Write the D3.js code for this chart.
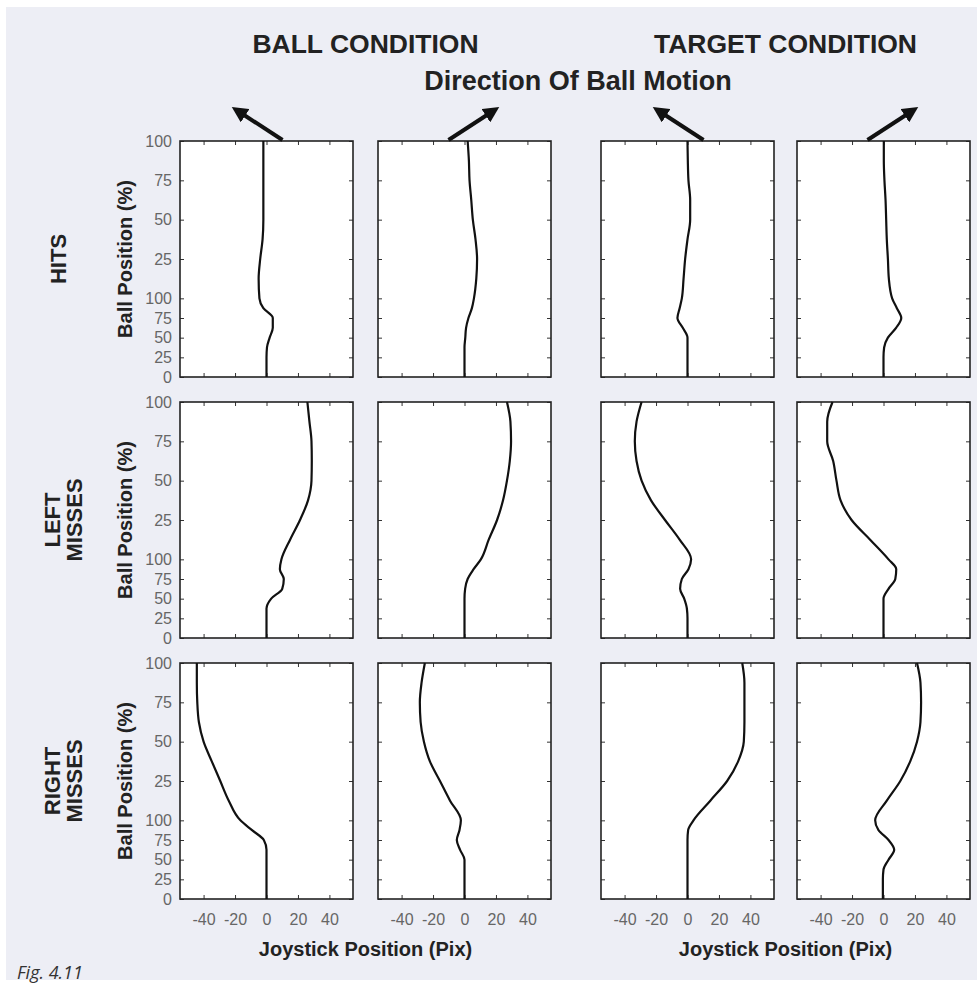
<!DOCTYPE html>
<html>
<head>
<meta charset="utf-8">
<script src="https://cdn.jsdelivr.net/npm/d3@7"></script>
<style>
  body { margin: 0; background: #fff; }
  svg { display: block; }
  .tick text { font-family: "Liberation Sans", Arial, sans-serif; font-size: 16px; fill: #666; }
  .tick line { stroke: #333; }
  .lbl { font-family: "Liberation Sans", Arial, sans-serif; font-weight: bold; fill: #222; }
</style>
</head>
<body>
<svg width="977" height="983"></svg>
<script>
// ball position samples: 0-100 = first part of the trial (lower axis), 100-200 = second part (upper axis)
var ballPos = [0, 12.5, 25, 37.5, 50, 62.5, 75, 87.5, 100, 112.5, 125, 137.5, 150, 162.5, 175, 187.5, 200];
var yTicks = [0, 25, 50, 75, 100, 125, 150, 175, 200];
var xTicks = [-40, -20, 0, 20, 40];

var rowNames = [["HITS"], ["LEFT", "MISSES"], ["RIGHT", "MISSES"]];
var condNames = ["BALL CONDITION", "TARGET CONDITION"];
var motionDir = [-1, 1, -1, 1];   // arrow above each column

// joystick position (pix) per panel, row by row
var hitsBallL   = [0, 0, 0, 0.3, 2, 4, 4, -2, -4.5, -5, -4, -2.5, -2, -2, -2, -2, -2];
var hitsBallR   = [0, 0, 0, 0, 0.5, 1, 2.5, 4.7, 6, 7.5, 8, 7, 5.3, 4.3, 3.2, 2.8, 2];
var hitsTargL   = [0, 0, 0, 0, 0, -3, -6.4, -5, -3.6, -2.5, -1.5, 0, 1.7, 1.7, 0.6, 0.2, 0];
var hitsTargR   = [0, 0, 0, 0.4, 2.8, 8, 11.3, 8.5, 5.5, 3.4, 2.8, 2.1, 1.7, 1.3, 0.6, 0.2, 0.2];
var leftBallL   = [0, 0, 0, 0, 3, 10, 11, 8.5, 9.5, 15, 21.3, 26.4, 28.6, 28.8, 28.6, 27.3, 26];
var leftBallR   = [0, 0, 0, 0, 0, 0.4, 2, 5.8, 10.4, 15.4, 20.7, 24.5, 27, 28.8, 29.6, 29.2, 27];
var leftTargL   = [0, 0, 0, -0.4, -2.1, -4.7, -3.6, 0.6, 2.3, -5, -14.3, -23.2, -29.2, -32.4, -33.5, -32.4, -29.2];
var leftTargR   = [0, 0, 0, 0, 0, 3.2, 7.5, 8.1, 3.2, -8.5, -20.3, -27.3, -29.9, -32, -35.8, -35.8, -32.4];
var rightBallL  = [0, 0, 0, 0, 0, 0, -1.7, -9.2, -16.6, -24, -29.4, -34.8, -40, -43, -44, -44.3, -44.3];
var rightBallR  = [0, 0, 0, 0, 0, -2.8, -4.9, -3.2, -2.3, -9.2, -15.6, -22, -25.8, -27.9, -28.4, -27.3, -25.2];
var rightTargL  = [0, 0, 0, 0, 0, 0, 0, 0.4, 3.8, 14.5, 25.2, 32.2, 35.8, 36.2, 36.2, 36.2, 34.8];
var rightTargR  = [-0.4, -0.4, -0.4, 0, 3.2, 6.8, 3.2, -3.2, -5.3, 2.1, 10.7, 17, 21.3, 23.5, 23.9, 23.5, 21.3];

var panels = [
  [hitsBallL, hitsBallR, hitsTargL, hitsTargR],
  [leftBallL, leftBallR, leftTargL, leftTargR],
  [rightBallL, rightBallR, rightTargL, rightTargR]
];

var svg = d3.select("svg");

// page background
svg.append("rect").attr("x", 6).attr("y", 7).attr("width", 971).attr("height", 973).attr("fill", "#edeef5");

var colX = [180, 378, 601, 797],
    rowY = [141, 402, 663],
    pw = 173,
    ph = 236;

var line = d3.line().curve(d3.curveMonotoneY);

panels.forEach(function(row, r) {
  row.forEach(function(vals, c) {
    var x = d3.scaleLinear().domain([-55, 55]).range([colX[c], colX[c] + pw]);
    var y = d3.scaleLinear().domain([0, 100, 200]).range([rowY[r] + ph, rowY[r] + ph * 2 / 3, rowY[r]]);

    var g = svg.append("g");
    g.append("rect")
      .attr("x", colX[c]).attr("y", rowY[r])
      .attr("width", pw).attr("height", ph)
      .attr("fill", "#fff");

    // inward ticks on every side
    var left = d3.axisLeft(y).tickValues(yTicks).tickSizeInner(-4).tickSizeOuter(0).tickPadding(8)
      .tickFormat(c == 0 ? function(d) { return d > 100 ? d - 100 : d; } : "");
    g.append("g").attr("transform", "translate(" + colX[c] + ",0)").call(left)
      .call(function(s) { s.select(".domain").remove(); });
    g.append("g").attr("transform", "translate(" + (colX[c] + pw) + ",0)")
      .call(d3.axisRight(y).tickValues(yTicks).tickSizeInner(-4).tickSizeOuter(0).tickFormat(""))
      .call(function(s) { s.select(".domain").remove(); });
    var bottom = d3.axisBottom(x).tickValues(xTicks).tickSizeInner(-4).tickSizeOuter(0).tickPadding(15)
      .tickFormat(r == 2 ? function(d) { return String(d); } : "");
    g.append("g").attr("transform", "translate(0," + (rowY[r] + ph) + ")").call(bottom)
      .call(function(s) { s.select(".domain").remove(); });
    g.append("g").attr("transform", "translate(0," + rowY[r] + ")")
      .call(d3.axisTop(x).tickValues(xTicks).tickSizeInner(-4).tickSizeOuter(0).tickFormat(""))
      .call(function(s) { s.select(".domain").remove(); });

    g.append("rect")
      .attr("x", colX[c]).attr("y", rowY[r])
      .attr("width", pw).attr("height", ph)
      .attr("fill", "none").attr("stroke", "#222").attr("stroke-width", 1.6);

    g.append("path")
      .attr("d", line(ballPos.map(function(t, i) { return [x(vals[i]), y(t)]; })))
      .attr("fill", "none").attr("stroke", "#111").attr("stroke-width", 2.2);
  });

  // y title and row label
  var cy = rowY[r] + ph / 2;
  svg.append("text").attr("class", "lbl")
    .attr("transform", "translate(132," + cy + ") rotate(-90)")
    .attr("text-anchor", "middle").attr("font-size", 20)
    .text("Ball Position (%)");
  var names = rowNames[r];
  names.forEach(function(n, i) {
    var bx = names.length == 1 ? 66 : 60 + i * 22;
    svg.append("text").attr("class", "lbl")
      .attr("transform", "translate(" + bx + "," + cy + ") rotate(-90)")
      .attr("text-anchor", "middle").attr("font-size", 22)
      .text(n);
  });
});

// x titles
[0, 2].forEach(function(c) {
  svg.append("text").attr("class", "lbl")
    .attr("x", (colX[c] + colX[c + 1] + pw) / 2).attr("y", 956)
    .attr("text-anchor", "middle").attr("font-size", 20)
    .text("Joystick Position (Pix)");
});

// condition headers
condNames.forEach(function(n, i) {
  svg.append("text").attr("class", "lbl")
    .attr("x", (colX[i * 2] + colX[i * 2 + 1] + pw) / 2).attr("y", 53)
    .attr("text-anchor", "middle").attr("font-size", 26.5)
    .text(n);
});
svg.append("text").attr("class", "lbl")
  .attr("x", 578).attr("y", 90)
  .attr("text-anchor", "middle").attr("font-size", 27)
  .text("Direction Of Ball Motion");

// arrows
svg.append("defs").append("marker")
  .attr("id", "head").attr("viewBox", "0 0 10 10")
  .attr("refX", 2).attr("refY", 5)
  .attr("markerWidth", 4).attr("markerHeight", 4)
  .attr("orient", "auto")
  .append("path").attr("d", "M0,0 L10,5 L0,10 z").attr("fill", "#111");

motionDir.forEach(function(d, c) {
  var cx = colX[c] + pw / 2;
  svg.append("line")
    .attr("x1", cx - d * 16).attr("y1", 140)
    .attr("x2", cx + d * 24).attr("y2", 114)
    .attr("stroke", "#111").attr("stroke-width", 4)
    .attr("marker-end", "url(#head)");
});

svg.append("text")
  .attr("x", 17).attr("y", 979)
  .attr("font-family", "'Open Sans', 'Liberation Sans', sans-serif")
  .attr("font-style", "italic").attr("font-size", 18).attr("fill", "#333")
  .text("Fig. 4.11");
</script>
</body>
</html>
